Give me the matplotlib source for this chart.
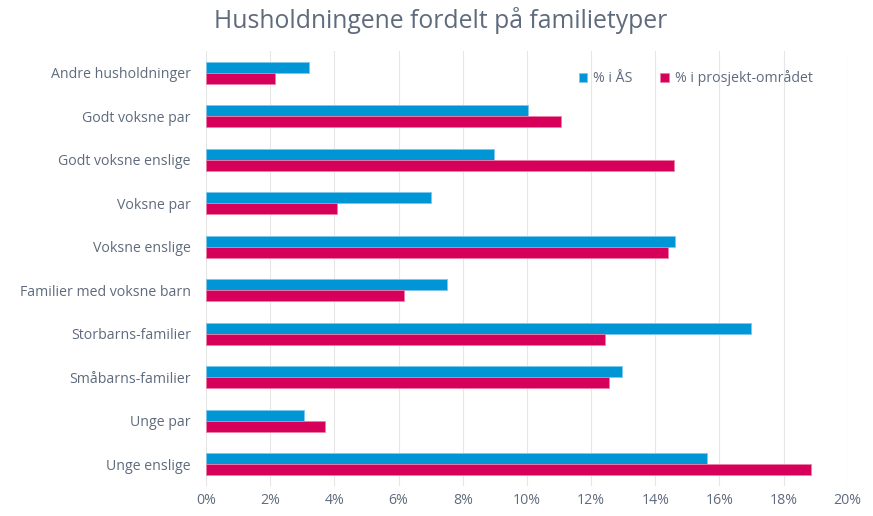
import matplotlib.pyplot as plt
import numpy as np

plt.rcParams['font.family'] = ['Open Sans', 'DejaVu Sans']

categories = ['Andre husholdninger', 'Godt voksne par', 'Godt voksne enslige',
              'Voksne par', 'Voksne enslige', 'Familier med voksne barn',
              'Storbarns-familier', 'Småbarns-familier', 'Unge par', 'Unge enslige']
aas = [3.2, 10.05, 8.97, 7.0, 14.62, 7.52, 17.0, 12.98, 3.04, 15.6]
prosjekt = [2.15, 11.05, 14.6, 4.09, 14.4, 6.18, 12.45, 12.57, 3.71, 18.86]
xticks = [0, 2, 4, 6, 8, 10, 12, 14, 16, 18, 20]

blue = '#0096d6'
red = '#d6005a'
txt = '#5f6b7d'

fig = plt.figure(figsize=(8.73, 5.16), dpi=100)
ax = fig.add_axes([0.236, 0.058, 0.735, 0.843])

y = np.arange(len(categories))
h = 0.25
ax.barh(y - h / 2, aas, height=h, color=blue, edgecolor='#7cc8ee', linewidth=0.6,
        label='% i ÅS', zorder=3)
ax.barh(y + h / 2, prosjekt, height=h, color=red, edgecolor='#ec7fa8', linewidth=0.6,
        label='% i prosjekt-området', zorder=3)

ax.set_ylim(len(categories) - 0.5, -0.5)
ax.set_xlim(0, 20)
ax.set_yticks(y)
ax.set_yticklabels(categories)
ax.set_xticks(xticks)
ax.set_xticklabels([f'{t}%' for t in xticks])
ax.tick_params(axis='both', length=0, labelsize=10.2, labelcolor=txt)
ax.tick_params(axis='y', pad=11)
ax.tick_params(axis='x', pad=5)
ax.grid(axis='x', color='#e6e6e6', linewidth=0.8, zorder=0)
for s in ax.spines.values():
    s.set_visible(False)

leg = ax.legend(loc='upper right', bbox_to_anchor=(0.965, 0.985), ncol=2, frameon=False,
                fontsize=10.2, handlelength=0.6, handleheight=0.6, handletextpad=0.4,
                columnspacing=2.0, labelcolor=txt)

fig.text(0.505, 0.96, 'Husholdningene fordelt på familietyper', ha='center', va='center',
         fontsize=17.8, color=txt)

fig.savefig('out.png', dpi=100)
